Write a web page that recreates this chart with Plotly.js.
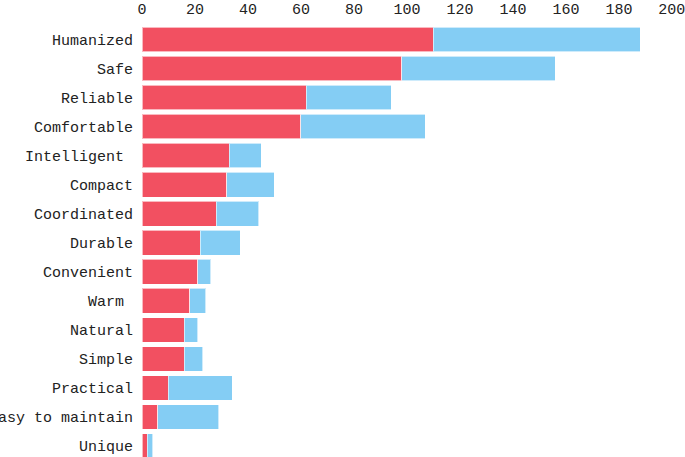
<!DOCTYPE html>
<html>
<head>
<meta charset="utf-8">
<script src="https://cdn.plot.ly/plotly-3.0.1.min.js"></script>
<style>html,body{margin:0;padding:0;background:#fff;}#chart{width:685px;height:457px;}</style>
</head>
<body>
<div id="chart"></div>
<script>
const categories = ["Humanized","Safe","Reliable","Comfortable","Intelligent ","Compact","Coordinated","Durable","Convenient","Warm ","Natural","Simple","Practical","Easy to maintain","Unique"];
const redValues = [110, 98, 62, 60, 33, 32, 28, 22, 21, 18, 16, 16, 10, 6, 2];
const blueValues = [78, 58, 32, 47, 12, 18, 16, 15, 5, 6, 5, 7, 24, 23, 2];
const xTicks = [0, 20, 40, 60, 80, 100, 120, 140, 160, 180, 200];

const font = {family: "Liberation Mono, DejaVu Sans Mono, monospace", size: 15, color: "#222"};
const traces = [
  {type: "bar", orientation: "h", y: categories, x: redValues, name: "A",
   marker: {color: "#F25061", line: {color: "rgba(255,255,255,0.6)", width: 1}}, hoverinfo: "x+y"},
  {type: "bar", orientation: "h", y: categories, x: blueValues, name: "B",
   marker: {color: "#84CDF4", line: {color: "rgba(255,255,255,0.6)", width: 1}}, hoverinfo: "x+y"}
];
const layout = {
  width: 685, height: 457,
  margin: {l: 142, r: 13, t: 25, b: 0},
  barmode: "stack", bargap: 0.15,
  showlegend: false,
  paper_bgcolor: "#fff", plot_bgcolor: "#fff",
  font: font,
  xaxis: {side: "top", range: [0, 200.05], tickvals: xTicks, showgrid: false, zeroline: false,
          showline: false, ticks: "", tickfont: font, ticklabeloverflow: "allow",
          ticklabelstandoff: 7},
  yaxis: {type: "category", range: [14.38, -0.5], showgrid: false, zeroline: false,
          showline: false, ticks: "", ticklabelstandoff: 8, tickfont: font}
};
Plotly.newPlot("chart", traces, layout, {staticPlot: true});
</script>
</body>
</html>
